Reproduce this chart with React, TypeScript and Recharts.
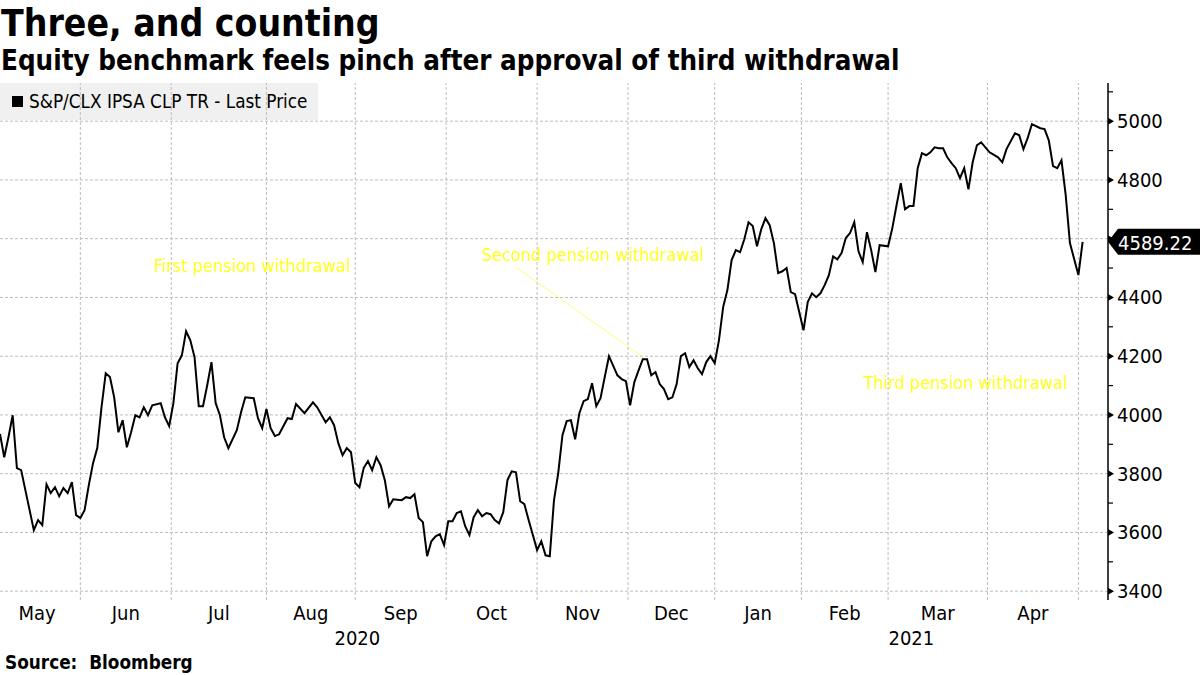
import React from 'react';
import { LineChart, Line, XAxis, YAxis, ReferenceLine, ReferenceDot } from 'recharts';

const FONT = "'DejaVu Sans Condensed', 'DejaVu Sans', sans-serif";

// Trading-day index (0 = early May 2020) and index level (S&P/CLX IPSA CLP TR)
const days = [
  0, 1, 2, 3, 4, 5, 6, 8, 9, 10, 11, 12, 13, 14, 15, 16, 17, 18, 19, 20,
  21, 22, 23, 24, 25, 26, 27, 28, 29, 30, 31, 32, 33, 34, 35, 36, 38, 39, 40, 41,
  42, 43, 44, 45, 46, 47, 48, 49, 50, 51, 52, 53, 54, 56, 57, 58, 60, 61, 62, 63,
  64, 65, 66, 68, 69, 70, 72, 74, 75, 77, 78, 79, 80, 81, 82, 83, 84, 85, 86, 87,
  88, 89, 90, 91, 92, 93, 95, 96, 97, 98, 99, 100, 101, 102, 103, 104, 105, 106, 107, 108,
  109, 110, 111, 112, 113, 114, 115, 116, 117, 118, 119, 120, 121, 122, 123, 124, 125, 126, 127, 128,
  129, 130, 131, 132, 133, 134, 135, 136, 137, 138, 139, 140, 141, 142, 143, 144, 146, 147, 148, 149,
  150, 151, 152, 153, 154, 155, 156, 157, 158, 159, 160, 161, 162, 163, 164, 165, 166, 167, 168, 169,
  170, 171, 172, 173, 174, 175, 176, 177, 178, 179, 180, 181, 182, 183, 184, 185, 186, 187, 188, 190,
  191, 192, 193, 194, 195, 196, 197, 198, 199, 200, 201, 202, 203, 204, 205, 206, 207, 208, 210, 211,
  212, 213, 214, 215, 216, 217, 218, 219, 220, 221, 222, 223, 224, 225, 226, 227, 228, 229, 230, 231,
  232, 234, 236, 237, 238, 240, 241, 242, 243, 244, 246, 247, 248, 249, 250, 251, 252, 253, 255, 256,
];
const prices = [
  3935, 3856, 3924, 3999, 3819, 3812, 3744, 3608, 3642, 3625, 3764, 3734, 3754, 3723, 3751, 3734, 3771, 3659, 3649, 3676,
  3761, 3836, 3887, 4026, 4142, 4129, 4060, 3941, 3982, 3890, 3941, 3999, 3992, 4026, 3999, 4033, 4040, 3992, 3962, 4040,
  4176, 4203, 4285, 4254, 4197, 4030, 4030, 4101, 4180, 4040, 3999, 3924, 3887, 3948, 4009, 4060, 4057, 3989, 3955, 4020,
  3955, 3928, 3934, 3989, 3986, 4037, 4006, 4043, 4026, 3975, 3992, 3965, 3904, 3863, 3887, 3873, 3768, 3754, 3819, 3843,
  3812, 3856, 3829, 3778, 3689, 3713, 3710, 3720, 3717, 3730, 3649, 3635, 3519, 3570, 3587, 3594, 3557, 3638, 3638, 3666,
  3672, 3621, 3591, 3652, 3676, 3655, 3666, 3662, 3642, 3631, 3669, 3778, 3808, 3805, 3706, 3696, 3642, 3591, 3540, 3570,
  3522, 3519, 3710, 3802, 3931, 3979, 3982, 3917, 4006, 4047, 4054, 4108, 4030, 4057, 4129, 4200, 4135, 4122, 4115, 4033,
  4112, 4152, 4190, 4190, 4135, 4146, 4105, 4088, 4054, 4060, 4105, 4200, 4210, 4163, 4186, 4159, 4139, 4180, 4200, 4176,
  4254, 4367, 4425, 4527, 4561, 4554, 4598, 4656, 4643, 4574, 4632, 4670, 4646, 4585, 4483, 4489, 4500, 4418, 4411, 4288,
  4384, 4414, 4401, 4414, 4442, 4476, 4540, 4530, 4551, 4602, 4619, 4656, 4557, 4520, 4622, 4561, 4486, 4578, 4574, 4636,
  4714, 4789, 4700, 4711, 4711, 4840, 4891, 4884, 4894, 4911, 4908, 4908, 4877, 4857, 4840, 4806, 4840, 4768, 4860, 4918,
  4928, 4894, 4877, 4860, 4905, 4959, 4952, 4905, 4942, 4990, 4976, 4973, 4935, 4847, 4840, 4867, 4748, 4585, 4476, 4589.22,
];

const monthNames = ['May', 'Jun', 'Jul', 'Aug', 'Sep', 'Oct', 'Nov', 'Dec', 'Jan', 'Feb', 'Mar', 'Apr'];
// month boundaries in trading-day units (May 2020 start ... May 2021 start)
const monthBoundaries = [-1.5, 19, 40.5, 63, 84, 105.5, 127, 148.5, 169, 189.5, 210, 233.5, 255];
const yearLabels = ['2020', '2021'];
const yearBoundaries = [0, 169, 262];
const yTicks = [3400, 3500, 3600, 3700, 3800, 3900, 4000, 4100, 4200, 4300, 4400, 4500, 4600, 4700, 4800, 4900, 5000, 5100];
const yMajor = [3400, 3600, 3800, 4000, 4200, 4400, 4600, 4800, 5000];
const xDomain = [0, 262];
const yDomain = [3370, 5130];

const annotations = [
  { label: 'First pension withdrawal', day: 59.6, value: 4510 },
  { label: 'Second pension withdrawal', day: 140.2, value: 4547 },
  { label: 'Third pension withdrawal', day: 228.3, value: 4112 },
];
const connector = [{ x: 122, y: 4503 }, { x: 152.5, y: 4192 }];

const seriesName = 'S&P/CLX IPSA CLP TR - Last Price';
const lastPrice = prices[prices.length - 1];

const data = days.map((d, i) => ({ day: d, price: prices[i] }));
const monthMids = monthNames.map((_, i) => (monthBoundaries[i] + monthBoundaries[i + 1]) / 2);
const yearMids = yearLabels.map((_, i) => (yearBoundaries[i] + yearBoundaries[i + 1]) / 2);
const gridX = monthBoundaries.filter((b) => b > xDomain[0] && b < xDomain[1]);

const YELLOW = '#ffff1a';
const GRID = '#bdbdbd';

const MonthTick = (props: any) => {
  const { x, y, payload } = props;
  return (
    <text x={x} y={y + 13} textAnchor="middle" dominantBaseline="central" fontSize={20} fill="#000" fontFamily={FONT}>
      {monthNames[payload.index]}
    </text>
  );
};

const YearTick = (props: any) => {
  const { x, y, payload } = props;
  return (
    <text x={x} y={y + 13} textAnchor="middle" dominantBaseline="central" fontSize={20} fill="#000" fontFamily={FONT}>
      {yearLabels[payload.index]}
    </text>
  );
};

const YTick = (props: any) => {
  const { x, y, payload } = props;
  const v = payload.value;
  if (!yMajor.includes(v)) {
    return <line x1={x} x2={x + 5} y1={y} y2={y} stroke="#000" strokeWidth={1.2} />;
  }
  const hide = Math.abs(v - lastPrice) < 60;
  return (
    <g>
      <polygon points={`${x},${y - 3.5} ${x + 6},${y} ${x},${y + 3.5}`} fill="#000" />
      {!hide && (
        <text x={x + 9} y={y} dominantBaseline="central" fontSize={20} fill="#000" fontFamily={FONT}>
          {v}
        </text>
      )}
    </g>
  );
};

const PriceTag = (props: any) => {
  const vb = props.viewBox || {};
  const xr = (vb.x || 0) + (vb.width || 0);
  const yc = vb.y || 0;
  const h = 13;
  return (
    <g>
      <polygon
        points={`${xr},${yc} ${xr + 10},${yc - h} ${xr + 92},${yc - h} ${xr + 92},${yc + h} ${xr + 10},${yc + h}`}
        fill="#000"
      />
      <text x={xr + 10} y={yc + 1} dominantBaseline="central" fontSize={20} fill="#fff" fontFamily={FONT}>
        {lastPrice.toFixed(2)}
      </text>
    </g>
  );
};

export default function App() {
  return (
    <div style={{ position: 'absolute', left: 0, top: 0, width: 1200, height: 675, background: '#fff', overflow: 'hidden', fontFamily: FONT }}>
      <div style={{ position: 'absolute', left: 1, top: 3, fontSize: 37, fontWeight: 700, lineHeight: '42px', whiteSpace: 'nowrap' }}>
        Three, and counting
      </div>
      <div style={{ position: 'absolute', left: 1, top: 44, fontSize: 27.5, fontWeight: 700, lineHeight: '32px', whiteSpace: 'nowrap' }}>
        Equity benchmark feels pinch after approval of third withdrawal
      </div>
      <div style={{ position: 'absolute', left: 0, top: 83, width: 318, height: 37, background: '#f0f0f0' }}>
        <div style={{ position: 'absolute', left: 12, top: 13, width: 11, height: 11, background: '#000' }} />
        <div style={{ position: 'absolute', left: 29, top: 0, fontSize: 18.8, lineHeight: '37px', whiteSpace: 'nowrap' }}>{seriesName}</div>
      </div>
      <div style={{ position: 'absolute', left: 0, top: 0 }}>
        <LineChart width={1200} height={675} data={data} margin={{ top: 83, right: 0, bottom: 0, left: 0 }}>
          <XAxis
            dataKey="day"
            type="number"
            domain={xDomain}
            allowDataOverflow
            ticks={monthMids}
            interval={0}
            axisLine={false}
            tickLine={false}
            tickSize={0}
            tickMargin={0}
            height={25}
            tick={<MonthTick />}
          />
          <XAxis
            xAxisId="year"
            dataKey="day"
            type="number"
            domain={xDomain}
            allowDataOverflow
            ticks={yearMids}
            interval={0}
            axisLine={false}
            tickLine={false}
            tickSize={0}
            tickMargin={0}
            height={50}
            tick={<YearTick />}
          />
          <YAxis
            orientation="right"
            type="number"
            domain={yDomain}
            allowDataOverflow
            ticks={yTicks}
            interval={0}
            width={92}
            axisLine={{ stroke: '#000', strokeWidth: 1.5 }}
            tickLine={false}
            tickSize={0}
            tickMargin={0}
            tick={<YTick />}
          />
          {yMajor.map((v) => (
            <ReferenceLine key={'h' + v} y={v} stroke={GRID} strokeDasharray="3 2" strokeWidth={1} />
          ))}
          {gridX.map((b) => (
            <ReferenceLine key={'v' + b} x={b} stroke={GRID} strokeDasharray="3 2" strokeWidth={1} />
          ))}
          <ReferenceLine segment={connector} stroke={YELLOW} strokeWidth={1} strokeOpacity={0.6} />
          {annotations.map((a) => (
            <ReferenceDot
              key={a.label}
              x={a.day}
              y={a.value}
              r={0}
              shape={(p: any) => (
                <text x={p.cx} y={p.cy} textAnchor="middle" dominantBaseline="central" fontSize={18} fill={YELLOW} fontFamily={FONT}>
                  {a.label}
                </text>
              )}
            />
          ))}
          <ReferenceLine y={lastPrice} stroke="none" label={(p: any) => <PriceTag {...p} />} />
          <Line dataKey="price" stroke="#000" strokeWidth={2} dot={false} isAnimationActive={false} />
        </LineChart>
      </div>
      <div style={{ position: 'absolute', left: 5, top: 652, fontSize: 18.8, fontWeight: 700, lineHeight: '22px', whiteSpace: 'nowrap' }}>
        Source:&nbsp; Bloomberg
      </div>
    </div>
  );
}
